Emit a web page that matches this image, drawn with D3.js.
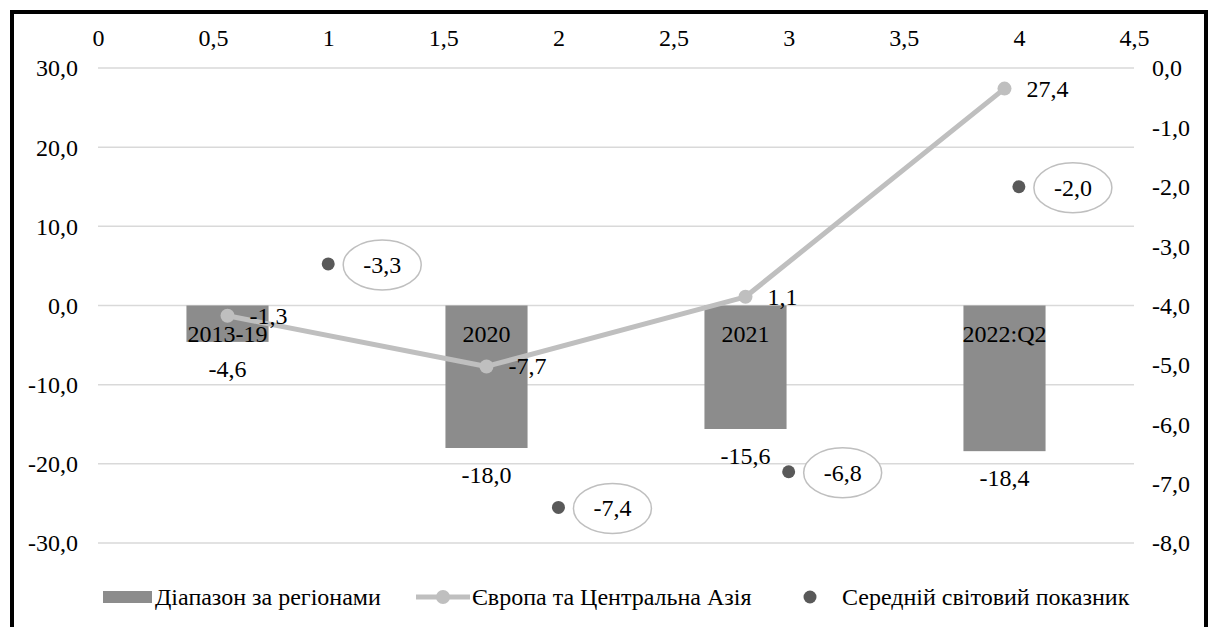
<!DOCTYPE html>
<html><head><meta charset="utf-8">
<script src="https://cdn.jsdelivr.net/npm/d3@7"></script>
<style>body{margin:0;background:#fff} svg text{font-family:'Liberation Serif',serif !important}</style>
</head><body>
<svg id="c" width="1211" height="627" font-family="Liberation Serif"></svg>
<script>
const categories = ["2013-19", "2020", "2021", "2022:Q2"];
const rangeValues = [-4.6, -18.0, -15.6, -18.4];
const europeValues = [-1.3, -7.7, 1.1, 27.4];
const globalX = [1, 2, 3, 4];
const globalValues = [-3.3, -7.4, -6.8, -2.0];
const leftTicks = [30, 20, 10, 0, -10, -20, -30];
const rightTicks = [0, -1, -2, -3, -4, -5, -6, -7, -8];
const topTicks = [0, 0.5, 1, 1.5, 2, 2.5, 3, 3.5, 4, 4.5];
const legendLabels = ["Діапазон за регіонами", "Європа та Центральна Азія", "Середній світовий показник"];

const fmt1 = v => d3.format(".1f")(v).replace(".", ",").replace("−", "-");
const fmtTop = v => String(v).replace(".", ",");

const svg = d3.select("#c");
const L = 98, R = 1134, T = 68, B = 543;
const FS = 24;

const xBand = d3.scaleBand().domain(categories).range([L, R]).paddingInner(0.683).paddingOuter(0.3415);
const xSec = d3.scaleLinear().domain([0, 4.5]).range([L, R]);
const yL = d3.scaleLinear().domain([-30, 30]).range([B, T]);
const yR = d3.scaleLinear().domain([-8, 0]).range([B, T]);

// frame
svg.append("rect").attr("x", 12).attr("y", 12).attr("width", 1194).attr("height", 660)
  .attr("fill", "none").attr("stroke", "#000").attr("stroke-width", 4);

// gridlines
svg.append("g").selectAll("line").data(leftTicks).join("line")
  .attr("x1", L).attr("x2", R).attr("y1", d => yL(d)).attr("y2", d => yL(d))
  .attr("stroke", "#d9d9d9").attr("stroke-width", 1.5);

function styleAxis(g) {
  g.select(".domain").remove();
  g.attr("font-family", "Liberation Serif").attr("font-size", FS);
}

// left axis
const gL = svg.append("g").attr("transform", `translate(${L - 20},0)`)
  .call(d3.axisLeft(yL).tickValues(leftTicks).tickFormat(fmt1).tickSize(0).tickPadding(0));
styleAxis(gL); gL.selectAll("text").attr("dy", "0.33em");

// right axis
const gR = svg.append("g").attr("transform", `translate(${R + 18},0)`)
  .call(d3.axisRight(yR).tickValues(rightTicks).tickFormat(fmt1).tickSize(0).tickPadding(0));
styleAxis(gR); gR.selectAll("text").attr("dy", "0.33em");

// top axis
const gT = svg.append("g").attr("transform", `translate(0,${T - 22})`)
  .call(d3.axisTop(xSec).tickValues(topTicks).tickFormat(fmtTop).tickSize(0).tickPadding(0));
styleAxis(gT); gT.selectAll("text").attr("dy", "0");

// bars
svg.append("g").selectAll("rect").data(categories).join("rect")
  .attr("x", d => xBand(d)).attr("width", xBand.bandwidth())
  .attr("y", (d, i) => Math.min(yL(0), yL(rangeValues[i])))
  .attr("height", (d, i) => Math.abs(yL(rangeValues[i]) - yL(0)))
  .attr("fill", "#8c8c8c");
// category labels inside bars
svg.append("g").selectAll("text").data(categories).join("text")
  .attr("x", d => xBand(d) + xBand.bandwidth() / 2).attr("y", yL(0) + 36)
  .attr("text-anchor", "middle").attr("font-size", FS).text(d => d);
// value labels below bars
svg.append("g").selectAll("text").data(categories).join("text")
  .attr("x", d => xBand(d) + xBand.bandwidth() / 2).attr("y", (d, i) => yL(rangeValues[i]) + 35)
  .attr("text-anchor", "middle").attr("font-size", FS).text((d, i) => fmt1(rangeValues[i]));

// line
const cx = d => xBand(d) + xBand.bandwidth() / 2;
const line = d3.line().x((d, i) => cx(categories[i])).y(d => yL(d));
svg.append("path").datum(europeValues).attr("d", line)
  .attr("fill", "none").attr("stroke", "#bfbfbf").attr("stroke-width", 5).attr("stroke-linejoin", "round");
svg.append("g").selectAll("circle").data(europeValues).join("circle")
  .attr("cx", (d, i) => cx(categories[i])).attr("cy", d => yL(d)).attr("r", 7).attr("fill", "#bfbfbf");
svg.append("g").selectAll("text").data(europeValues).join("text")
  .attr("x", (d, i) => cx(categories[i]) + 22).attr("y", d => yL(d) + 8)
  .attr("font-size", FS).text(d => fmt1(d));

// global dots
svg.append("g").selectAll("circle").data(globalValues).join("circle")
  .attr("cx", (d, i) => xSec(globalX[i])).attr("cy", d => yR(d)).attr("r", 6.5).attr("fill", "#595959");
const gE = svg.append("g").selectAll("g").data(globalValues).join("g")
  .attr("transform", (d, i) => `translate(${xSec(globalX[i]) + 54},${yR(d) + 1})`);
gE.append("ellipse").attr("rx", 39).attr("ry", 25).attr("fill", "#fff").attr("stroke", "#bfbfbf").attr("stroke-width", 1.5);
gE.append("text").attr("text-anchor", "middle").attr("y", 8).attr("font-size", FS).text(d => fmt1(d));

// legend
const ly = 597;
const lg = svg.append("g");
lg.append("rect").attr("x", 103).attr("y", ly - 6).attr("width", 49).attr("height", 12).attr("fill", "#8c8c8c");
lg.append("text").attr("x", 155).attr("y", ly + 8).attr("font-size", FS).text(legendLabels[0]);
lg.append("line").attr("x1", 416).attr("x2", 470).attr("y1", ly).attr("y2", ly).attr("stroke", "#bfbfbf").attr("stroke-width", 5);
lg.append("circle").attr("cx", 443).attr("cy", ly).attr("r", 7).attr("fill", "#bfbfbf");
lg.append("text").attr("x", 472).attr("y", ly + 8).attr("font-size", FS).text(legendLabels[1]);
lg.append("circle").attr("cx", 810).attr("cy", ly).attr("r", 6.5).attr("fill", "#595959");
lg.append("text").attr("x", 842).attr("y", ly + 8).attr("font-size", FS).text(legendLabels[2]);

svg.selectAll("text").attr("font-family", "Liberation Serif").attr("fill", "#000");
</script>
</body></html>
